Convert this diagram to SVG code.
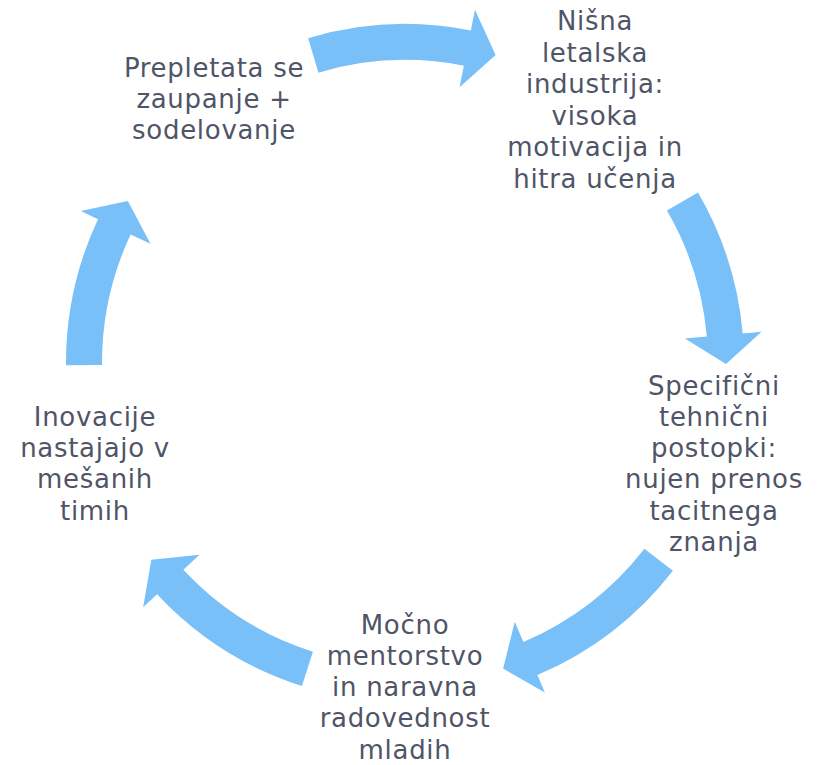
<svg xmlns="http://www.w3.org/2000/svg" width="829" height="765" viewBox="0 0 829 765">
<style>
.arrow{fill:#79BFF8;stroke:none}
.lbl{font-family:"DejaVu Sans","Liberation Sans",sans-serif;font-size:26px;letter-spacing:0.7px;fill:#4F5567;text-anchor:middle}
</style>
<rect width="829" height="765" fill="#FFFFFF"/>
<g id="connectors">
<path class="arrow" d="M308.15,38.14 A339,339 0 0 1 470.84,30.43 L474.92,9.84 L495.62,55.06 L459.58,87.34 L463.85,65.76 A303,303 0 0 0 318.43,72.64 Z"/>
<path class="arrow" d="M698.0,192.5 A339,339 0 0 1 742.7,333.45 L761.6,331.8 L726.0,364.1 L684.9,338.5 L706.85,336.59 A303,303 0 0 0 666.9,210.6 Z"/>
<path class="arrow" d="M672.9,570.8 A339,339 0 0 1 537.45,675.05 L544.87,692.54 L503.13,668.6 L514.79,621.66 L523.38,641.91 A303,303 0 0 0 644.4,548.7 Z"/>
<path class="arrow" d="M301.94,685.97 A339,339 0 0 1 157.06,594.2 L143.16,607.16 L151.35,559.74 L199.48,554.64 L183.39,569.65 A303,303 0 0 0 312.89,651.67 Z"/>
<path class="arrow" d="M66.0,365.37 A339,339 0 0 1 98.0,219.2 L80.8,211.1 L127.85,201.06 L150.5,243.8 L130.6,234.5 A303,303 0 0 0 102.0,365.11 Z"/>
</g>
<g id="node1">
<text class="lbl" x="214" y="77">Prepletata se</text>
<text class="lbl" x="214" y="108">zaupanje +</text>
<text class="lbl" x="214" y="139">sodelovanje</text>
</g>
<g id="node2">
<text class="lbl" x="595" y="30">Nišna</text>
<text class="lbl" x="595" y="61.5">letalska</text>
<text class="lbl" x="595" y="93">industrija:</text>
<text class="lbl" x="595" y="124.5">visoka</text>
<text class="lbl" x="595" y="156">motivacija in</text>
<text class="lbl" x="595" y="187.5">hitra učenja</text>
</g>
<g id="node3">
<text class="lbl" x="714" y="394.5">Specifični</text>
<text class="lbl" x="714" y="425.8">tehnični</text>
<text class="lbl" x="714" y="457.1">postopki:</text>
<text class="lbl" x="714" y="488.4">nujen prenos</text>
<text class="lbl" x="714" y="519.7">tacitnega</text>
<text class="lbl" x="714" y="551">znanja</text>
</g>
<g id="node4">
<text class="lbl" x="405" y="633.5">Močno</text>
<text class="lbl" x="405" y="664.8">mentorstvo</text>
<text class="lbl" x="405" y="696.1">in naravna</text>
<text class="lbl" x="405" y="727.4">radovednost</text>
<text class="lbl" x="405" y="758.7">mladih</text>
</g>
<g id="node5">
<text class="lbl" x="95" y="425.8">Inovacije</text>
<text class="lbl" x="95" y="457.1">nastajajo v</text>
<text class="lbl" x="95" y="488.4">mešanih</text>
<text class="lbl" x="95" y="519.7">timih</text>
</g>
</svg>
